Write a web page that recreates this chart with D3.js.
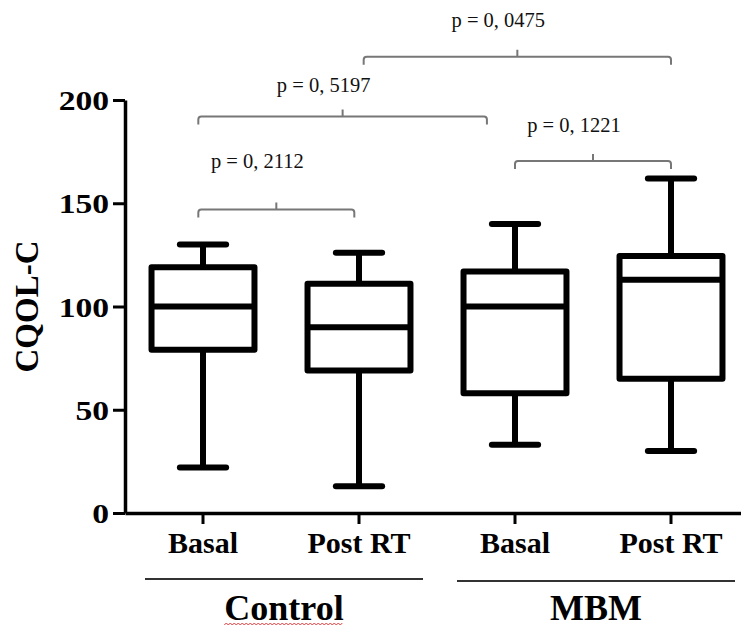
<!DOCTYPE html>
<html>
<head>
<meta charset="utf-8">
<script src="https://cdn.jsdelivr.net/npm/d3@7"></script>
<style>
  html, body { margin: 0; padding: 0; background: #fff; }
  svg { display: block; font-family: "Liberation Serif", "Times New Roman", serif; }
</style>
</head>
<body>
<div id="chart"></div>
<script>
// box data, one entry per box (left to right)
const conditions = ['Basal', 'Post RT', 'Basal', 'Post RT'];
const boxGroup = ['Control', 'Control', 'MBM', 'MBM'];
const whiskerLow = [22, 13, 33, 30];
const q1 = [79, 69, 58, 65];
const median = [100, 90, 100, 113];
const q3 = [119, 111, 117, 124.5];
const whiskerHigh = [130, 126, 140, 162];
const yTicks = [0, 50, 100, 150, 200];
const groups = ['Control', 'MBM'];

// comparisons: from/to in box positions, levels in CQOL-C units
const pLabels = ['p = 0, 2112', 'p = 0, 5197', 'p = 0, 1221', 'p = 0, 0475'];
const pFrom = [-0.03, -0.03, 2, 1.03];
const pTo = [0.97, 1.82, 3, 3];
const pLevel = [147, 192, 170.5, 221];
const pTextLevel = [167, 204, 184.5, 235.5];

const width = 741, height = 631;

const svg = d3.select('#chart')
    .append('svg')
    .attr('width', width)
    .attr('height', height);

const x = d3.scaleBand()
    .domain(d3.range(conditions.length))
    .range([125, 749]);

const y = d3.scaleLinear()
    .domain([0, 200])
    .range([513, 100]);

const cx = (i) => x(i) + x.bandwidth() / 2;
const xPos = (v) => cx(0) + v * x.step(); // fractional box positions
const boxW = x.step() * 0.66;
const capW = x.step() * 0.335;

// y axis
const yAxis = svg.append('g')
    .attr('transform', 'translate(125,0)')
    .call(d3.axisLeft(y).tickValues(yTicks).tickSize(12).tickSizeOuter(0));
yAxis.select('.domain').attr('stroke-width', 3.5);
yAxis.selectAll('.tick line').attr('stroke-width', 3);
yAxis.selectAll('.tick text')
    .attr('x', -16 / 1.2)
    .attr('dy', '0.34em')
    .attr('transform', 'scale(1.2,1)')
    .style('font-size', '28px')
    .style('font-weight', 'bold')
    .style('font-family', '"Liberation Serif", serif')
    .attr('fill', '#000');

// x axis
const xAxis = svg.append('g')
    .attr('transform', 'translate(0,513)')
    .call(d3.axisBottom(x).tickFormat((i) => conditions[i]).tickSize(11).tickSizeOuter(0));
xAxis.select('.domain').attr('stroke-width', 3.5);
xAxis.selectAll('.tick line').attr('stroke-width', 3);
xAxis.selectAll('.tick text')
    .attr('y', 40)
    .attr('dy', null)
    .style('font-size', '30px')
    .style('font-weight', 'bold')
    .style('font-family', '"Liberation Serif", serif')
    .attr('fill', '#000');

// y axis title
svg.append('text')
    .attr('transform', `translate(38,${y(100)}) rotate(-90)`)
    .attr('text-anchor', 'middle')
    .style('font-size', '33px')
    .style('font-weight', 'bold')
    .text('CQOL-C');

// boxes
const idx = d3.range(conditions.length);
const boxes = svg.append('g').selectAll('g')
    .data(idx)
    .enter()
    .append('g');

boxes.append('line')
    .attr('x1', (i) => cx(i)).attr('x2', (i) => cx(i))
    .attr('y1', (i) => y(whiskerLow[i])).attr('y2', (i) => y(whiskerHigh[i]))
    .attr('stroke', '#000').attr('stroke-width', 6);

[whiskerLow, whiskerHigh].forEach((arr) => {
    boxes.append('line')
        .attr('x1', (i) => cx(i) - capW / 2 + 3).attr('x2', (i) => cx(i) + capW / 2 - 3)
        .attr('y1', (i) => y(arr[i])).attr('y2', (i) => y(arr[i]))
        .attr('stroke', '#000').attr('stroke-width', 6)
        .attr('stroke-linecap', 'round');
});

boxes.append('rect')
    .attr('x', (i) => cx(i) - boxW / 2)
    .attr('width', boxW)
    .attr('y', (i) => y(q3[i]))
    .attr('height', (i) => y(q1[i]) - y(q3[i]))
    .attr('fill', '#fff')
    .attr('stroke', '#000').attr('stroke-width', 6)
    .attr('stroke-linejoin', 'round');

boxes.append('line')
    .attr('x1', (i) => cx(i) - boxW / 2).attr('x2', (i) => cx(i) + boxW / 2)
    .attr('y1', (i) => y(median[i])).attr('y2', (i) => y(median[i]))
    .attr('stroke', '#000').attr('stroke-width', 6);

// comparison brackets
pLabels.forEach((label, k) => {
    const x1 = xPos(pFrom[k]), x2 = xPos(pTo[k]);
    const xm = (x1 + x2) / 2;
    const yb = y(pLevel[k]);
    svg.append('path')
        .attr('d', `M${x1},${yb + 8} L${x1},${yb + 3} Q${x1},${yb} ${x1 + 3},${yb} L${x2 - 3},${yb} Q${x2},${yb} ${x2},${yb + 3} L${x2},${yb + 8} M${xm},${yb} L${xm},${yb - 7}`)
        .attr('fill', 'none')
        .attr('stroke', '#777')
        .attr('stroke-width', 2);
    svg.append('text')
        .attr('x', xm - 19)
        .attr('y', y(pTextLevel[k]))
        .attr('text-anchor', 'middle')
        .style('font-size', '20.5px')
        .attr('fill', '#111')
        .text(label);
});

// group lines and labels
groups.forEach((g, k) => {
    const members = idx.filter((i) => boxGroup[i] === g);
    const gx1 = x(members[0]) + 20;
    const gx2 = x(members[members.length - 1]) + x.step() - 14;
    const ly = 579 + k * 2;
    svg.append('line')
        .attr('x1', gx1).attr('x2', gx2)
        .attr('y1', ly).attr('y2', ly)
        .attr('stroke', '#333').attr('stroke-width', 2);
    const t = svg.append('text')
        .attr('x', (gx1 + gx2) / 2)
        .attr('y', 620)
        .attr('text-anchor', 'middle')
        .style('font-size', '36px')
        .style('font-weight', 'bold')
        .text(g);
    if (g === 'Control') {
        // spell-check squiggle under the word
        const bb = t.node().getBBox();
        const pts = d3.range(bb.x, bb.x + bb.width, 2).map((px, j) => [px, 624 + (j % 2 ? -1 : 1)]);
        svg.append('path')
            .attr('d', d3.line()(pts))
            .attr('fill', 'none')
            .attr('stroke', '#e03a3a')
            .attr('stroke-width', 1);
    }
});
</script>
</body>
</html>
